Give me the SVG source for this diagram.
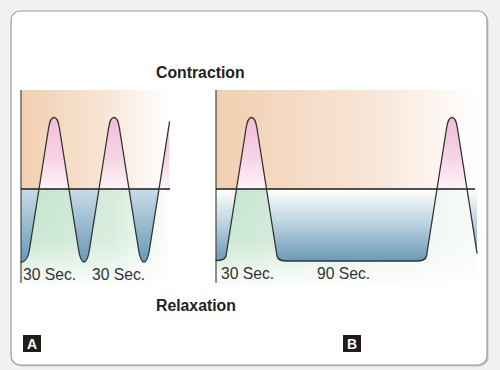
<svg xmlns="http://www.w3.org/2000/svg" width="500" height="370" viewBox="0 0 500 370">
<style>
.curve{fill:none;stroke:#333;stroke-width:1.3;stroke-linejoin:round;stroke-linecap:round}
.axis{stroke:#444;stroke-width:1.2}
.base{stroke:#1a1a1a;stroke-width:1.3}
.title{font-family:"Liberation Sans",Arial,sans-serif;font-weight:bold;font-size:15.8px;fill:#222}
.sec{font-family:"Liberation Sans",Arial,sans-serif;font-size:15.7px;fill:#333}
.tag{font-family:"Liberation Sans",Arial,sans-serif;font-weight:bold;font-size:14px;fill:#fff;text-anchor:middle}
.tagbox{fill:#1c1c1c}
</style>
<defs>
  <linearGradient id="peachA" gradientUnits="userSpaceOnUse" x1="21" y1="0" x2="169" y2="0">
    <stop offset="0" stop-color="#f1cfb1"/><stop offset="0.55" stop-color="#f8e4d4"/><stop offset="1" stop-color="#ffffff"/>
  </linearGradient>
  <linearGradient id="peachB" gradientUnits="userSpaceOnUse" x1="216" y1="0" x2="478" y2="0">
    <stop offset="0" stop-color="#f1cfb1"/><stop offset="0.6" stop-color="#f8e6d8"/><stop offset="1" stop-color="#ffffff"/>
  </linearGradient>
  <linearGradient id="greenA" gradientUnits="userSpaceOnUse" x1="21" y1="0" x2="175" y2="0">
    <stop offset="0" stop-color="#c4e4cd"/><stop offset="0.6" stop-color="#d6ecdc"/><stop offset="1" stop-color="#ffffff"/>
  </linearGradient>
  <linearGradient id="greenB" gradientUnits="userSpaceOnUse" x1="216" y1="0" x2="480" y2="0">
    <stop offset="0" stop-color="#c4e4cd"/><stop offset="0.6" stop-color="#e4f2e8"/><stop offset="1" stop-color="#f8fbf9"/>
  </linearGradient>
  <linearGradient id="fadeDown" x1="0" y1="0" x2="0" y2="1">
    <stop offset="0" stop-color="#fff" stop-opacity="0"/><stop offset="0.55" stop-color="#fff" stop-opacity="0.1"/><stop offset="1" stop-color="#fff" stop-opacity="0.9"/>
  </linearGradient>
  <linearGradient id="pink" gradientUnits="userSpaceOnUse" x1="0" y1="118" x2="0" y2="189">
    <stop offset="0" stop-color="#f3bdd8"/><stop offset="0.55" stop-color="#f7d3e5"/><stop offset="1" stop-color="#fdf4f8"/>
  </linearGradient>
  <linearGradient id="blueA" gradientUnits="userSpaceOnUse" x1="0" y1="189" x2="0" y2="262">
    <stop offset="0" stop-color="#c8dce7"/><stop offset="1" stop-color="#6898b6"/>
  </linearGradient>
  <linearGradient id="blueB" gradientUnits="userSpaceOnUse" x1="0" y1="189" x2="0" y2="262">
    <stop offset="0" stop-color="#ffffff"/><stop offset="0.45" stop-color="#bed5e2"/><stop offset="1" stop-color="#6898b6"/>
  </linearGradient>
  <clipPath id="underA"><path d="M21,262 C25,262 28.2,258 29.4,250 L39,189 L48.6,128 C50.8,114 57.2,114 59.4,128 L69,189 L78.6,250 C81.1,266 86.9,266 89.4,250 L99,189 L108.6,128 C110.8,114 117.2,114 119.4,128 L129,189 L138.6,250 C141.1,266 146.9,266 149.4,250 L159,189 L169.5,122 L169.5,300 L21,300 Z"/></clipPath>
  <clipPath id="overA"><path d="M21,262 C25,262 28.2,258 29.4,250 L39,189 L48.6,128 C50.8,114 57.2,114 59.4,128 L69,189 L78.6,250 C81.1,266 86.9,266 89.4,250 L99,189 L108.6,128 C110.8,114 117.2,114 119.4,128 L129,189 L138.6,250 C141.1,266 146.9,266 149.4,250 L159,189 L169.5,122 L169.5,80 L21,80 Z"/></clipPath>
  <clipPath id="underB"><path d="M216,260.5 C221,260.5 225.2,260 226,256 L236.5,189 L246.1,128 C248.3,114 254.7,114 256.9,128 L266.5,189 L277,256 C277.8,260 281,261 287,261 L416.5,261 C422.5,261 425.7,260 426.5,256 L437,189 L446.6,128 C448.8,114 455.2,114 457.4,128 L467,189 L477,253 L477,300 L216,300 Z"/></clipPath>
  <clipPath id="overB"><path d="M216,260.5 C221,260.5 225.2,260 226,256 L236.5,189 L246.1,128 C248.3,114 254.7,114 256.9,128 L266.5,189 L277,256 C277.8,260 281,261 287,261 L416.5,261 C422.5,261 425.7,260 426.5,256 L437,189 L446.6,128 C448.8,114 455.2,114 457.4,128 L467,189 L477,253 L477,80 L216,80 Z"/></clipPath>
</defs>

<rect x="0" y="0" width="500" height="370" fill="#f1f1f1"/>
<rect x="12.5" y="12.5" width="476" height="354" rx="9" fill="#cacaca"/>
<rect id="frame" x="11" y="11" width="476" height="354" rx="9" fill="#ffffff" stroke="#9a9a9a" stroke-width="1.2"/>

<g id="panelA">
  <rect x="21" y="90" width="148.5" height="99" fill="url(#peachA)"/>
  <rect x="21" y="189" width="148.5" height="95" fill="url(#greenA)"/>
  <rect x="21" y="189" width="148.5" height="95" fill="url(#fadeDown)"/>
  <rect x="21" y="110" width="148.5" height="79" fill="url(#pink)" clip-path="url(#underA)"/>
  <rect x="21" y="189" width="148.5" height="80" fill="url(#blueA)" clip-path="url(#overA)"/>
  <line class="axis" x1="21" y1="90" x2="21" y2="283"/>
  <line class="base" x1="21" y1="189" x2="170" y2="189"/>
  <path class="curve" d="M21,262 C25,262 28.2,258 29.4,250 L39,189 L48.6,128 C50.8,114 57.2,114 59.4,128 L69,189 L78.6,250 C81.1,266 86.9,266 89.4,250 L99,189 L108.6,128 C110.8,114 117.2,114 119.4,128 L129,189 L138.6,250 C141.1,266 146.9,266 149.4,250 L159,189 L169.5,122"/>
  <text class="sec" x="23" y="280">30 Sec.</text>
  <text class="sec" x="92" y="280">30 Sec.</text>
</g>

<g id="panelB">
  <rect x="216" y="90" width="262" height="99" fill="url(#peachB)"/>
  <rect x="216" y="189" width="261" height="95" fill="url(#greenB)"/>
  <rect x="216" y="189" width="261" height="95" fill="url(#fadeDown)"/>
  <rect x="216" y="110" width="261" height="79" fill="url(#pink)" clip-path="url(#underB)"/>
  <rect x="216" y="189" width="261" height="80" fill="url(#blueB)" clip-path="url(#overB)"/>
  <line class="axis" x1="216" y1="90" x2="216" y2="283"/>
  <line class="base" x1="216" y1="189" x2="475" y2="189"/>
  <path class="curve" d="M216,260.5 C221,260.5 225.2,260 226,256 L236.5,189 L246.1,128 C248.3,114 254.7,114 256.9,128 L266.5,189 L277,256 C277.8,260 281,261 287,261 L416.5,261 C422.5,261 425.7,260 426.5,256 L437,189 L446.6,128 C448.8,114 455.2,114 457.4,128 L467,189 L477,253"/>
  <text class="sec" x="221" y="279">30 Sec.</text>
  <text class="sec" x="317" y="279">90 Sec.</text>
</g>

<g id="labels">
  <text class="title" x="156" y="78">Contraction</text>
  <text class="title" x="156" y="311">Relaxation</text>
</g>

<g id="tagA">
  <rect class="tagbox" x="23" y="335" width="18" height="17"/>
  <text class="tag" x="32" y="349">A</text>
</g>
<g id="tagB">
  <rect class="tagbox" x="343" y="335" width="18" height="17"/>
  <text class="tag" x="352" y="349">B</text>
</g>
</svg>
